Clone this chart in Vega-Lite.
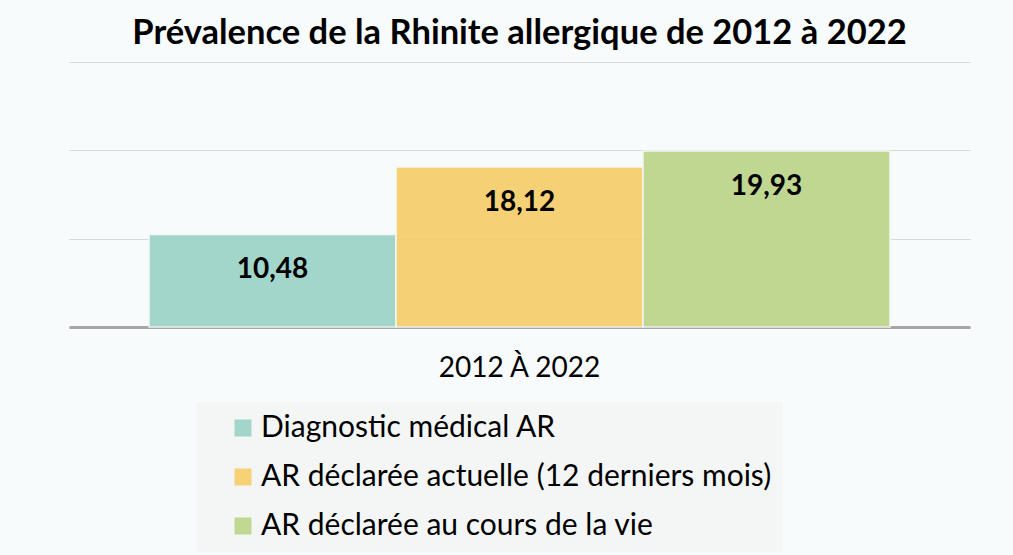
{
  "$schema": "https://vega.github.io/schema/vega-lite/v6.json",
  "width": 901,
  "height": 265,
  "autosize": "none",
  "padding": {"left": 69, "top": 62, "right": 43, "bottom": 228},
  "background": "#f8fbfc",
  "title": {
    "text": "Prévalence de la Rhinite allergique de 2012 à 2022",
    "fontSize": 34.5,
    "font": "Lato",
    "fontWeight": "bold",
    "anchor": "middle",
    "frame": "group",
    "offset": 11,
    "color": "#000000"
  },
  "config": {
    "locale": {"number": {"decimal": ",", "thousands": " ", "grouping": [3], "currency": ["", " €"]}},
    "view": {"stroke": null}
  },
  "data": {
    "values": [
      {"periode": "2012 À 2022", "serie": "Diagnostic médical AR", "valeur": 10.48},
      {"periode": "2012 À 2022", "serie": "AR déclarée actuelle (12 derniers mois)", "valeur": 18.12},
      {"periode": "2012 À 2022", "serie": "AR déclarée au cours de la vie", "valeur": 19.93}
    ]
  },
  "encoding": {
    "x": {
      "field": "periode",
      "type": "nominal",
      "title": null,
      "scale": {"paddingInner": 0, "paddingOuter": 0.108},
      "axis": {
        "labelFontSize": 28,
        "labelFont": "Lato",
        "labelColor": "#000000",
        "ticks": false,
        "domainColor": "#a6a6a6",
        "domainWidth": 3,
        "labelPadding": 27,
        "labelAngle": 0
      }
    },
    "xOffset": {
      "field": "serie",
      "type": "nominal",
      "sort": ["Diagnostic médical AR", "AR déclarée actuelle (12 derniers mois)", "AR déclarée au cours de la vie"],
      "scale": {"paddingInner": 0, "paddingOuter": 0}
    },
    "y": {
      "field": "valeur",
      "type": "quantitative",
      "scale": {"domain": [0, 30]},
      "axis": {
        "labels": false,
        "ticks": false,
        "domain": false,
        "title": null,
        "values": [0, 10, 20, 30],
        "gridColor": "#d9d9d9"
      }
    }
  },
  "layer": [
    {
      "mark": {"type": "bar", "stroke": "#f4f8f2", "strokeWidth": 1.5, "opacity": 0.92},
      "encoding": {
        "color": {
          "field": "serie",
          "type": "nominal",
          "sort": ["Diagnostic médical AR", "AR déclarée actuelle (12 derniers mois)", "AR déclarée au cours de la vie"],
          "scale": {
            "domain": ["Diagnostic médical AR", "AR déclarée actuelle (12 derniers mois)", "AR déclarée au cours de la vie"],
            "range": ["#9bd3c7", "#f6cd6a", "#bbd589"]
          },
          "legend": {
            "orient": "none",
            "legendX": 128,
            "legendY": 340,
            "title": null,
            "fillColor": "#f4f6f6",
            "padding": 11,
            "labelFontSize": 30,
            "labelFont": "Lato",
            "labelColor": "#000000",
            "labelLimit": 700,
            "labelOffset": 3,
            "symbolType": "square",
            "symbolSize": 289,
            "symbolStrokeWidth": 0,
            "rowPadding": 19,
            "symbolOffset": 20
          }
        }
      }
    },
    {
      "mark": {"type": "text", "dy": 36, "fontSize": 28, "fontWeight": "bold", "font": "Lato", "color": "#000000"},
      "encoding": {
        "text": {"field": "valeur", "type": "quantitative", "format": ".2f"}
      }
    }
  ]
}
